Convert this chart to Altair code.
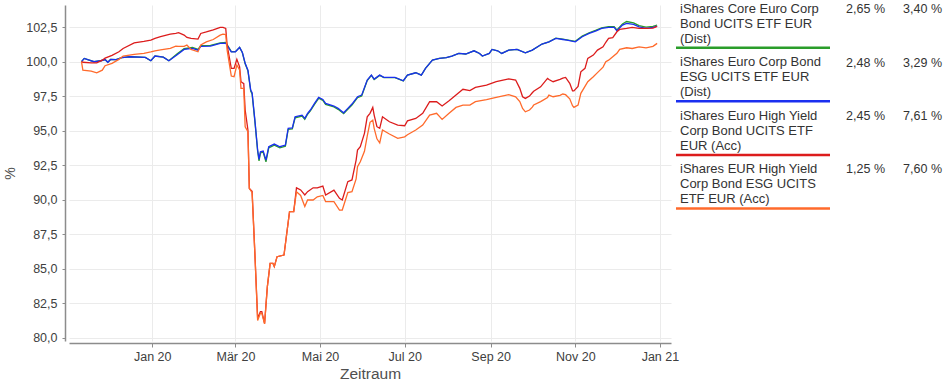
import altair as alt
import pandas as pd

# ---------------- data ----------------
ig_dates = [
    "2019-11-11", "2019-11-13", "2019-11-20", "2019-11-25", "2019-11-28", "2019-11-30",
    "2019-12-02", "2019-12-06", "2019-12-10", "2019-12-16", "2019-12-27", "2019-12-31",
    "2020-01-03", "2020-01-09", "2020-01-13", "2020-01-19", "2020-01-24", "2020-01-30",
    "2020-02-03", "2020-02-05", "2020-02-12", "2020-02-19", "2020-02-23", "2020-02-27",
    "2020-03-01", "2020-03-04", "2020-03-06", "2020-03-08", "2020-03-10", "2020-03-12",
    "2020-03-13", "2020-03-15", "2020-03-17", "2020-03-18", "2020-03-19", "2020-03-21",
    "2020-03-23", "2020-03-25", "2020-03-29", "2020-04-02", "2020-04-06", "2020-04-08",
    "2020-04-11", "2020-04-13", "2020-04-18", "2020-04-20", "2020-04-22", "2020-04-24",
    "2020-04-27", "2020-04-30", "2020-05-03", "2020-05-05", "2020-05-11", "2020-05-14",
    "2020-05-18", "2020-05-21", "2020-05-24", "2020-05-28", "2020-05-31", "2020-06-04",
    "2020-06-07", "2020-06-09", "2020-06-13", "2020-06-16", "2020-06-24", "2020-06-30",
    "2020-07-03", "2020-07-09", "2020-07-13", "2020-07-16", "2020-07-21", "2020-07-26",
    "2020-07-31", "2020-08-04", "2020-08-09", "2020-08-14", "2020-08-20", "2020-08-24",
    "2020-08-26", "2020-08-31", "2020-09-02", "2020-09-06", "2020-09-09", "2020-09-14",
    "2020-09-20", "2020-09-26", "2020-10-01", "2020-10-08", "2020-10-13", "2020-10-18",
    "2020-10-23", "2020-10-26", "2020-11-01", "2020-11-06", "2020-11-11", "2020-11-16",
    "2020-11-20", "2020-11-25", "2020-11-29", "2020-12-01", "2020-12-05", "2020-12-08",
    "2020-12-13", "2020-12-17", "2020-12-22", "2020-12-27", "2020-12-30",
]
blue_vals = [
    100.0, 100.23, 99.99, 100.06, 100.15, 99.95,
    100.15, 100.14, 100.28, 100.35, 100.3, 100.06,
    100.4, 100.32, 100.06, 100.5, 100.88, 100.96,
    100.83, 101.1, 101.12, 101.32, 101.33, 100.71,
    100.71, 101.03, 100.66, 99.87, 99.38, 97.93,
    97.74, 95.76, 93.59, 92.91, 93.46, 93.51,
    92.86, 93.83, 94.02, 93.83, 93.95, 95.16,
    95.2, 96.0, 96.12, 95.88, 96.25, 96.49,
    96.97, 97.41, 97.26, 96.97, 96.78, 96.61,
    96.29, 96.61, 96.92, 97.45, 97.57, 98.66,
    99.02, 98.73, 99.02, 98.86, 98.85, 98.61,
    99.02, 99.19, 99.02, 99.51, 100.11, 100.23,
    100.28, 100.4, 100.59, 100.55, 100.78, 100.59,
    100.4, 100.59, 100.88, 100.78, 100.59, 100.83,
    100.88, 100.64, 100.83, 101.27, 101.43, 101.68,
    101.6, 101.55, 101.43, 101.8, 102.04, 102.23,
    102.4, 102.48, 102.48, 102.23, 102.64, 102.77,
    102.7, 102.52, 102.4, 102.48, 102.57,
]
green_vals = [
    100.0, 100.23, 99.99, 100.06, 100.15, 99.95,
    100.15, 100.14, 100.28, 100.35, 100.3, 100.06,
    100.4, 100.32, 100.06, 100.56, 100.93, 101.02,
    100.88, 101.15, 101.17, 101.36, 101.38, 100.73,
    100.72, 101.03, 100.64, 99.84, 99.33, 97.87,
    97.66, 95.68, 93.5, 92.8, 93.38, 93.43,
    92.74, 93.75, 93.94, 93.75, 93.87, 95.08,
    95.12, 95.92, 96.05, 95.81, 96.18, 96.42,
    96.9, 97.34, 97.19, 96.9, 96.71, 96.54,
    96.22, 96.54, 96.85, 97.38, 97.5, 98.62,
    99.0, 98.7, 99.0, 98.84, 98.83, 98.6,
    99.02, 99.19, 99.02, 99.51, 100.11, 100.23,
    100.28, 100.4, 100.59, 100.55, 100.78, 100.59,
    100.4, 100.59, 100.88, 100.78, 100.59, 100.83,
    100.88, 100.64, 100.83, 101.27, 101.43, 101.7,
    101.63, 101.58, 101.47, 101.85, 102.09, 102.28,
    102.45, 102.53, 102.53, 102.3, 102.72, 102.9,
    102.8, 102.6, 102.5, 102.55, 102.65,
]

hy_dates = [
    "2019-11-11", "2019-11-12", "2019-11-18", "2019-11-22", "2019-11-26", "2019-11-28",
    "2019-12-03", "2019-12-08", "2019-12-11", "2019-12-19", "2019-12-26", "2019-12-31",
    "2020-01-03", "2020-01-07", "2020-01-14", "2020-01-18", "2020-01-20", "2020-01-24",
    "2020-01-26", "2020-01-29", "2020-02-03", "2020-02-05", "2020-02-09", "2020-02-14",
    "2020-02-19", "2020-02-21", "2020-02-23", "2020-02-24", "2020-02-27", "2020-02-29",
    "2020-03-02", "2020-03-04", "2020-03-05", "2020-03-07", "2020-03-08", "2020-03-10",
    "2020-03-11", "2020-03-13", "2020-03-15", "2020-03-17", "2020-03-19", "2020-03-20",
    "2020-03-22", "2020-03-24", "2020-03-26", "2020-03-28", "2020-03-29", "2020-03-31",
    "2020-04-05", "2020-04-07", "2020-04-09", "2020-04-12", "2020-04-14", "2020-04-17",
    "2020-04-20", "2020-04-22", "2020-04-26", "2020-04-29", "2020-05-03", "2020-05-05",
    "2020-05-11", "2020-05-15", "2020-05-17", "2020-05-21", "2020-05-24", "2020-05-27",
    "2020-05-28", "2020-05-30", "2020-06-02", "2020-06-04", "2020-06-06", "2020-06-08",
    "2020-06-09", "2020-06-11", "2020-06-13", "2020-06-15", "2020-06-20", "2020-06-26",
    "2020-07-01", "2020-07-03", "2020-07-09", "2020-07-14", "2020-07-19", "2020-07-24",
    "2020-07-28", "2020-08-02", "2020-08-07", "2020-08-12", "2020-08-17", "2020-08-21",
    "2020-08-29", "2020-09-05", "2020-09-14", "2020-09-19", "2020-09-22", "2020-09-24",
    "2020-09-26", "2020-09-29", "2020-10-01", "2020-10-02", "2020-10-07", "2020-10-12",
    "2020-10-13", "2020-10-16", "2020-10-21", "2020-10-23", "2020-10-25", "2020-10-28",
    "2020-10-30", "2020-10-31", "2020-11-03", "2020-11-05", "2020-11-08", "2020-11-10",
    "2020-11-14", "2020-11-17", "2020-11-21", "2020-11-23", "2020-11-25", "2020-11-28",
    "2020-12-01", "2020-12-03", "2020-12-08", "2020-12-12", "2020-12-17", "2020-12-22",
    "2020-12-27", "2020-12-30",
]
red_vals = [
    100.0, 99.95, 99.91, 99.91, 100.1, 100.25,
    100.45, 100.71, 100.95, 101.36, 101.46, 101.56,
    101.68, 101.8, 101.99, 102.05, 102.09, 101.92,
    101.75, 101.68, 101.63, 102.04, 102.15, 102.3,
    102.48, 102.48, 102.4, 101.2, 99.51, 99.51,
    100.16, 99.62, 98.54, 98.4, 96.49, 95.04,
    90.81, 90.6, 86.1, 81.4, 81.88, 81.88,
    81.03, 83.69, 85.38, 85.38, 85.14, 85.86,
    85.98, 87.56, 89.12, 89.12, 90.85, 90.7,
    90.33, 90.57, 90.85, 90.85, 90.98, 90.33,
    90.68, 90.09, 89.97, 91.3, 91.42, 92.86,
    93.59, 93.83, 94.8, 96.0, 96.25, 96.68,
    96.12, 95.28, 95.16, 96.0, 95.64, 95.4,
    95.35, 95.7, 95.88, 96.25, 97.09, 97.09,
    96.78, 97.16, 97.57, 97.99, 97.9, 98.13,
    98.3, 98.54, 98.75, 98.66, 98.06, 97.45,
    97.33, 97.5, 97.74, 97.85, 98.17, 98.78,
    98.7, 98.54, 98.71, 98.8, 98.85, 98.42,
    97.88, 97.88, 98.2, 99.26, 99.51, 100.23,
    100.47, 100.83, 101.07, 101.4, 101.68, 101.73,
    102.16, 102.33, 102.4, 102.48, 102.4, 102.4,
    102.42, 102.55,
]
orange_vals = [
    100.0, 99.38, 99.31, 99.19, 99.38, 99.7,
    99.87, 100.16, 100.4, 100.52, 100.6, 100.7,
    100.78, 100.85, 100.96, 101.12, 101.1, 101.1,
    101.2, 100.88, 100.71, 101.2, 101.43, 101.6,
    101.92, 101.99, 101.95, 100.83, 98.95, 98.9,
    99.75, 99.4, 98.06, 98.06, 95.28, 94.92,
    90.81, 90.5, 86.1, 81.23, 81.76, 81.76,
    80.99, 83.69, 85.38, 85.38, 85.14, 85.86,
    85.98, 87.56, 89.12, 89.12, 90.57, 90.3,
    89.49, 89.97, 89.97, 90.2, 90.3, 89.85,
    89.85, 89.24, 89.24, 90.5, 90.57, 91.5,
    92.38, 92.74, 93.5, 94.6, 95.6, 95.76,
    95.16, 94.4, 94.1, 95.04, 94.75, 94.44,
    94.55, 94.7, 95.04, 95.4, 96.12, 96.25,
    95.81, 96.25, 96.68, 96.85, 96.85, 97.09,
    97.25, 97.41, 97.6, 97.45, 97.1, 96.6,
    96.36, 96.49, 96.7, 96.85, 97.1, 97.4,
    97.57, 97.45, 97.55, 97.65, 97.6, 97.3,
    96.8, 96.68, 96.85, 97.7, 98.2, 98.54,
    98.9, 99.2, 99.6, 99.99, 100.1, 100.35,
    100.6, 100.88, 101.0, 100.95, 101.07, 101.0,
    101.1, 101.32,
]

legend_lines = [
    ["iShares Core Euro Corp", "Bond UCITS ETF EUR", "(Dist)"],
    ["iShares Euro Corp Bond", "ESG UCITS ETF EUR", "(Dist)"],
    ["iShares Euro High Yield", "Corp Bond UCITS ETF", "EUR (Acc)"],
    ["iShares EUR High Yield", "Corp Bond ESG UCITS", "ETF EUR (Acc)"],
]
perf_a = ["2,65 %", "2,48 %", "2,45 %", "1,25 %"]
perf_b = ["3,40 %", "3,29 %", "7,61 %", "7,60 %"]
series_colors = ["#2a9d2a", "#1a2ff0", "#dc1c1c", "#ff6a2b"]

y_ticks = [80.0, 82.5, 85.0, 87.5, 90.0, 92.5, 95.0, 97.5, 100.0, 102.5]
x_ticks = ["2020-01-01", "2020-03-01", "2020-05-01", "2020-07-01",
           "2020-09-01", "2020-11-01", "2021-01-01"]
month_names = ["Jan", "Feb", "Mär", "Apr", "Mai", "Jun",
               "Jul", "Aug", "Sep", "Okt", "Nov", "Dez"]
x_domain = ["2019-11-02", "2021-01-09"]
y_domain = [79.75, 104.1]

# ---------------- chart ----------------
FONT = "Liberation Sans"


def ms(d):
    return int(pd.Timestamp(d, tz="UTC").value // 10**6)


month_js = "[" + ",".join("'%s'" % m for m in month_names) + "]"
x_enc = alt.X(
    "date:T",
    scale=alt.Scale(type="utc", domain=[ms(d) for d in x_domain], nice=False),
    axis=alt.Axis(
        values=[ms(d) for d in x_ticks],
        labelExpr=month_js + "[utcmonth(datum.value)] + ' ' + utcFormat(datum.value, '%y')",
        title="Zeitraum", offset=2, tickSize=4, labelPadding=3, titlePadding=4,
        titleFontSize=15.5, labelFlush=False, labelOverlap=False, grid=True,
    ),
)
y_enc = alt.Y(
    "value:Q",
    scale=alt.Scale(domain=y_domain, nice=False, zero=False),
    axis=alt.Axis(
        values=y_ticks,
        labelExpr="replace(format(datum.value, '.1f'), '.', ',')",
        title="%", offset=4, tickSize=3, labelPadding=5, titlePadding=8,
        titleFontSize=14, grid=True,
    ),
)

series = [
    (ig_dates, green_vals), (ig_dates, blue_vals),
    (hy_dates, red_vals), (hy_dates, orange_vals),
]
layers = []
for (dates, vals), col in zip(series, series_colors):
    df = pd.DataFrame({"date": dates, "value": vals})
    layers.append(
        alt.Chart(df).mark_line(color=col, strokeWidth=1.3, clip=True)
        .encode(x=x_enc, y=y_enc)
    )

# legend (drawn as a text table to the right of the plot)
LEG_X = 611
for i, lines in enumerate(legend_lines):
    ytop = -1.5 + i * 53.4
    tdf = pd.DataFrame({"t": ["\n".join(lines)], "a": [perf_a[i]], "b": [perf_b[i]]})
    base = alt.Chart(tdf)
    layers.append(
        base.mark_text(align="left", baseline="top", lineBreak="\n", lineHeight=15,
                       fontSize=13, font=FONT, color="#333333")
        .encode(x=alt.value(LEG_X), y=alt.value(ytop - 0.5), text="t:N")
    )
    layers.append(
        base.mark_text(align="right", baseline="top", fontSize=12.5, font=FONT, color="#333333")
        .encode(x=alt.value(816), y=alt.value(ytop - 0.3), text="a:N")
    )
    layers.append(
        base.mark_text(align="right", baseline="top", fontSize=12.5, font=FONT, color="#333333")
        .encode(x=alt.value(873), y=alt.value(ytop - 0.3), text="b:N")
    )
    layers.append(
        base.mark_rule(color=series_colors[i], strokeWidth=2.5)
        .encode(x=alt.value(607), x2=alt.value(761), y=alt.value(42.7 + i * 53.6))
    )

chart = (
    alt.layer(*layers)
    .properties(
        width=602, height=336,
        padding={"left": 69, "top": 5, "right": 274, "bottom": 46},
        autosize=alt.AutoSizeParams(type="none"),
    )
    .configure_view(stroke=None)
    .configure_axis(
        gridColor="#ebebeb", gridWidth=1,
        domainColor="#8c8c8c", domainWidth=1.5,
        tickColor="#8c8c8c", tickWidth=1,
        labelFont=FONT, labelFontSize=12.5, labelColor="#404040",
        titleFont=FONT, titleColor="#505050", titleFontWeight="normal",
    )
)

chart.save("out.html", embed_options={"renderer": "svg", "actions": False})
